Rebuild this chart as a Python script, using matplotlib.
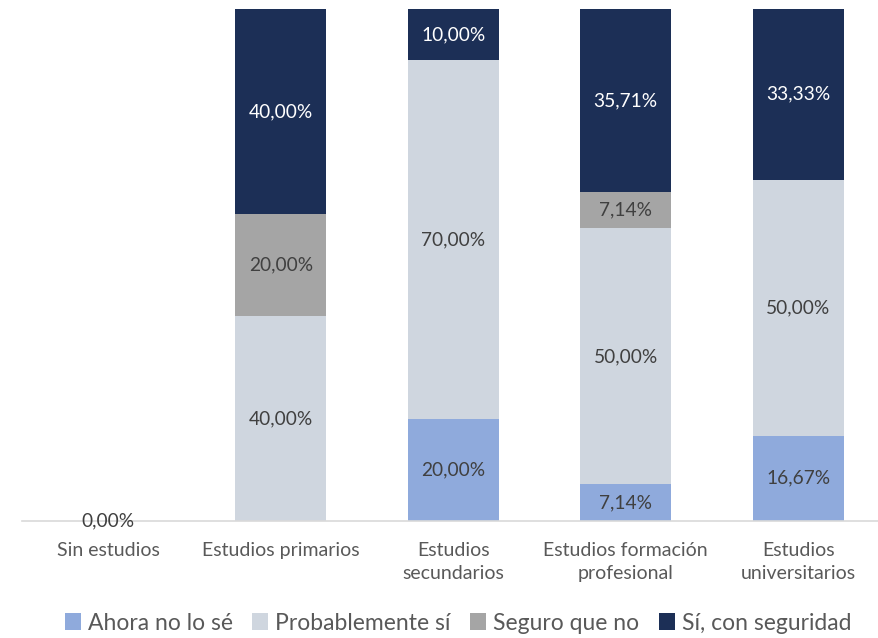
import matplotlib
matplotlib.use("Agg")
import matplotlib.pyplot as plt
import numpy as np

categories = ["Sin estudios", "Estudios primarios", "Estudios\nsecundarios",
              "Estudios formación\nprofesional", "Estudios\nuniversitarios"]
series_names = ["Ahora no lo sé", "Probablemente sí", "Seguro que no", "Sí, con seguridad"]
ahora = [0.0, 0.0, 20.0, 7.14, 16.67]
probable = [0.0, 40.0, 70.0, 50.0, 50.0]
seguro = [0.0, 20.0, 0.0, 7.14, 0.0]
si_seguro = [0.0, 40.0, 10.0, 35.71, 33.33]

colors = ["#8FAADC", "#CFD6DF", "#A5A5A5", "#1C2F56"]
text_colors = ["#404040", "#404040", "#404040", "#FFFFFF"]

plt.rcParams['font.family'] = ['Lato', 'DejaVu Sans']

fig = plt.figure(figsize=(8.79, 6.38), dpi=100)
ax = fig.add_axes([22/879, 117/638, 1 - 22/879, 512/638])

x = np.arange(len(categories))
width = 0.53
bottom = np.zeros(len(categories))
series = [ahora, probable, seguro, si_seguro]
for vals, name, col, tcol in zip(series, series_names, colors, text_colors):
    vals = np.array(vals)
    ax.bar(x, vals, width, bottom=bottom, color=col, label=name, edgecolor='none')
    for i, v in enumerate(vals):
        if v > 0:
            ax.text(x[i], bottom[i] + v / 2, f"{v:.2f}%".replace(".", ","),
                    ha='center', va='center', color=tcol, fontsize=13.8)
    bottom += vals

# zero label for the empty category
for i, tot in enumerate(bottom):
    if tot == 0:
        ax.text(x[i], 0, "0,00%", ha='center', va='center', color="#404040", fontsize=13.8)

ax.set_xlim(-0.5, -0.5 + 857/172.5)
ax.set_ylim(0, 100)
ax.set_xticks(x)
ax.set_xticklabels(categories, fontsize=14, color="#595959", linespacing=1.45)
ax.tick_params(axis='x', length=0, pad=15)
ax.set_yticks([])
for s in ['top', 'right', 'left']:
    ax.spines[s].set_visible(False)
ax.spines['bottom'].set_color("#D9D9D9")
ax.spines['bottom'].set_linewidth(1.2)

handles, labels = ax.get_legend_handles_labels()
leg = fig.legend(handles, labels, loc='center', bbox_to_anchor=(458/879, 15/638),
                 ncol=4, frameon=False, fontsize=16.5, handlelength=0.7, handleheight=0.7,
                 handletextpad=0.3, columnspacing=0.85, labelcolor="#595959")

fig.savefig("out.png", dpi=100)
